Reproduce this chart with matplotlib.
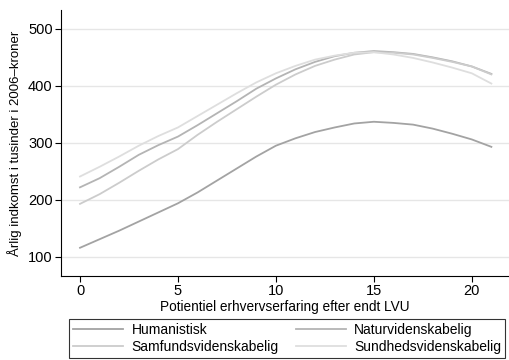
import matplotlib
matplotlib.use("Agg")
import matplotlib.pyplot as plt

plt.rcParams['font.family'] = ['Liberation Sans', 'DejaVu Sans']

years = list(range(0, 22))
humanistisk = [116, 131, 146, 162, 178, 194, 213, 234, 255, 276, 295, 308,
               319, 327, 334, 337, 335, 332, 325, 316, 306, 293]
naturvid = [222, 238, 258, 279, 296, 311, 331, 352, 373, 395, 413, 429,
            442, 452, 458, 461, 459, 456, 450, 443, 434, 421]
samfundsvid = [193, 210, 230, 251, 271, 289, 314, 337, 359, 381, 402, 420,
               435, 446, 455, 459, 458, 455, 449, 442, 434, 420]
sundhedsvid = [241, 258, 276, 295, 312, 327, 347, 367, 387, 406, 422, 435,
               446, 453, 458, 459, 455, 449, 441, 432, 422, 404]

labels = ["Humanistisk", "Naturvidenskabelig", "Samfundsvidenskabelig", "Sundhedsvidenskabelig"]
series = [humanistisk, naturvid, samfundsvid, sundhedsvid]
colors = ["#a3a3a3", "#b4b4b4", "#cccccc", "#dedede"]

xticks = [0, 5, 10, 15, 20]
yticks = [100, 200, 300, 400, 500]

W, H = 509, 360
fig = plt.figure(figsize=(W / 100, H / 100), dpi=100)
ax = fig.add_axes([61 / W, 1 - 276 / H, (W - 61) / W, (276 - 10) / H])

lines = []
for vals, lab, c in zip(series, labels, colors):
    ln, = ax.plot(years, vals, color=c, lw=1.3, label=lab)
    lines.append(ln)

ax.set_xlim(-0.97, 21.9)
ax.set_ylim(66.5, 533)
ax.set_xticks(xticks)
ax.set_yticks(yticks)
ax.grid(axis='y', color='#e6e6e6', lw=1.0)
ax.set_axisbelow(True)
for s in ['top', 'right']:
    ax.spines[s].set_visible(False)
for s in ['left', 'bottom']:
    ax.spines[s].set_color('black')
    ax.spines[s].set_linewidth(0.8)
ax.tick_params(axis='both', direction='out', length=4, width=0.8, labelsize=10.5,
               colors='black', pad=2)
ax.set_xlabel("Potientiel erhvervserfaring efter endt LVU", fontsize=9.8, labelpad=1)
ax.set_ylabel("Årlig indkomst i tusinder i 2006–kroner", fontsize=9.5, labelpad=4)

# row-wise order in a 2-column legend
order = [0, 2, 1, 3]
leg = fig.legend([lines[i] for i in order], [labels[i] for i in order], ncol=2,
                 loc='upper left',
                 bbox_to_anchor=(69 / W, 1 - 319 / H, (505 - 69) / W, 0.001),
                 mode='expand', fontsize=10, frameon=True, fancybox=False,
                 edgecolor='black', handlelength=3.6, handletextpad=0.6,
                 borderpad=0.3, labelspacing=0.25, borderaxespad=0)
leg.get_frame().set_linewidth(0.8)

fig.savefig("out.png", dpi=100)
